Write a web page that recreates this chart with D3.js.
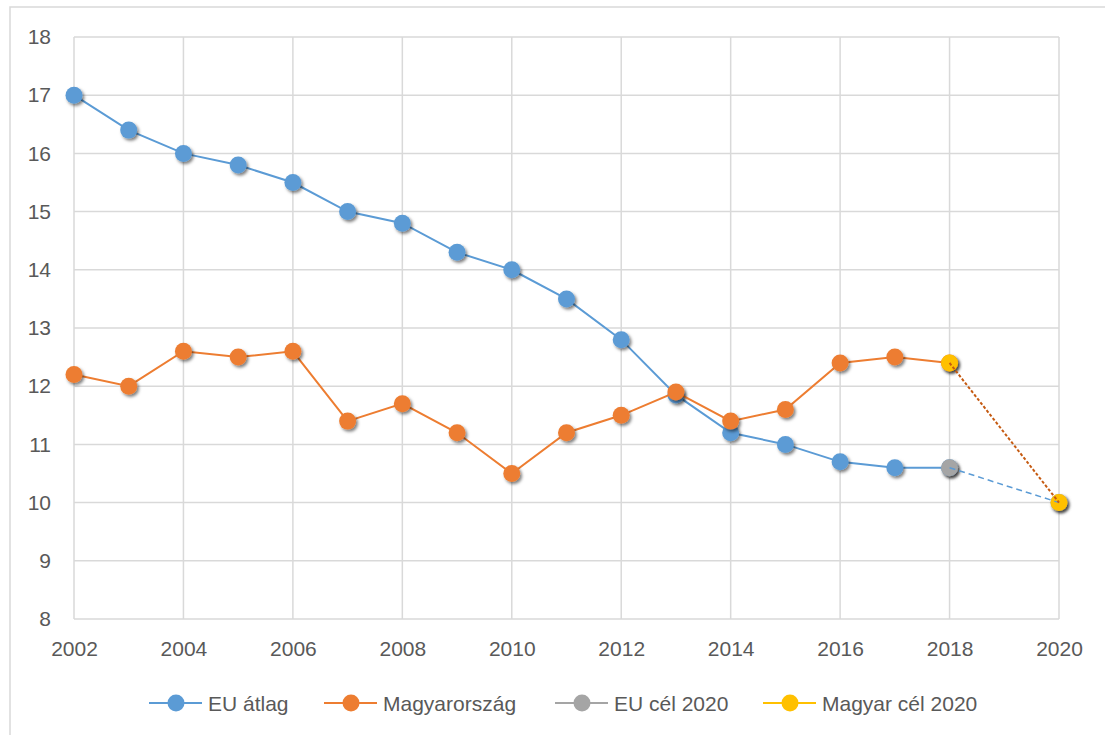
<!DOCTYPE html>
<html><head><meta charset="utf-8">
<script src="https://cdn.jsdelivr.net/npm/d3@7"></script>
<style>
html,body{margin:0;padding:0;background:#fff;}
svg{display:block;font-family:"Liberation Sans",Arial,sans-serif;}
</style></head>
<body>
<svg id="chart" width="1105" height="735"></svg>
<script>
// ---- data ----
const years = [2002,2003,2004,2005,2006,2007,2008,2009,2010,2011,2012,2013,2014,2015,2016,2017,2018];
const euAtlag = [17.0,16.4,16.0,15.8,15.5,15.0,14.8,14.3,14.0,13.5,12.8,11.85,11.2,11.0,10.7,10.6,10.6];
const magyarorszag = [12.2,12.0,12.6,12.5,12.6,11.4,11.7,11.2,10.5,11.2,11.5,11.9,11.4,11.6,12.4,12.5,12.4];
const celYears = [2018,2020];
const euCel2020 = [10.6,10.0];
const magyarCel2020 = [12.4,10.0];
const xTicks = [2002,2004,2006,2008,2010,2012,2014,2016,2018,2020];
const yTicks = [8,9,10,11,12,13,14,15,16,17,18];
const legendLabels = ["EU átlag","Magyarország","EU cél 2020","Magyar cél 2020"];

const C = {blue:"#5B9BD5", orange:"#ED7D31", grey:"#A5A5A5", yellow:"#FFC000", darkOrange:"#C55A11", text:"#595959", grid:"#D9D9D9"};

const svg = d3.select("#chart");
const defs = svg.append("defs");
const f = defs.append("filter").attr("id","sh").attr("x","-50%").attr("y","-50%").attr("width","200%").attr("height","200%");
f.append("feDropShadow").attr("dx",1.8).attr("dy",2.2).attr("stdDeviation",1.8).attr("flood-color","#000").attr("flood-opacity",0.5);

// outer border
svg.append("rect").attr("x",10).attr("y",7).attr("width",1110).attr("height",740)
  .attr("fill","none").attr("stroke",C.grid).attr("stroke-width",1.5);

const x = d3.scaleLinear().domain([2002,2020]).range([74,1059]);
const y = d3.scaleLinear().domain([8,18]).range([619,37]);

// gridlines
const g = svg.append("g");
g.selectAll(".hg").data(yTicks).join("line")
  .attr("x1",x(2002)).attr("x2",x(2020)).attr("y1",d=>y(d)).attr("y2",d=>y(d))
  .attr("stroke",C.grid).attr("stroke-width",1.5);
g.selectAll(".vg").data(xTicks).join("line")
  .attr("y1",y(8)).attr("y2",y(18)).attr("x1",d=>x(d)).attr("x2",d=>x(d))
  .attr("stroke",C.grid).attr("stroke-width",1.5);

// axes labels via d3 axes
const yAxis = svg.append("g").attr("transform",`translate(${x(2002)},0)`)
  .call(d3.axisLeft(y).tickValues(yTicks).tickSize(0).tickPadding(23).tickFormat(d3.format("d")));
const xAxis = svg.append("g").attr("transform",`translate(0,${y(8)})`)
  .call(d3.axisBottom(x).tickValues(xTicks).tickSize(0).tickPadding(22).tickFormat(d3.format("d")));
[yAxis,xAxis].forEach(a=>{
  a.select(".domain").remove();
  a.selectAll("text").attr("fill",C.text).style("font-size","21px").style("font-family","'Liberation Sans',Arial,sans-serif");
});

const line = d3.line().x(d=>x(d[0])).y(d=>y(d[1]));
const euPts = years.map((yr,i)=>[yr,euAtlag[i]]);
const huPts = years.map((yr,i)=>[yr,magyarorszag[i]]);
const euCelPts = celYears.map((yr,i)=>[yr,euCel2020[i]]);
const huCelPts = celYears.map((yr,i)=>[yr,magyarCel2020[i]]);

function series(pts,color){
  svg.append("path").datum(pts).attr("d",line).attr("fill","none").attr("stroke",color).attr("stroke-width",2);
  svg.append("g").selectAll("circle").data(pts).join("circle")
    .attr("cx",d=>x(d[0])).attr("cy",d=>y(d[1])).attr("r",8.5)
    .attr("fill",color).attr("filter","url(#sh)");
}
series(euPts,C.blue);
series(huPts,C.orange);

// target markers
svg.append("g").selectAll("circle").data([euCelPts[0]]).join("circle")
  .attr("cx",d=>x(d[0])).attr("cy",d=>y(d[1])).attr("r",8.5).attr("fill",C.grey).attr("filter","url(#sh)");
svg.append("g").selectAll("circle").data([euCelPts[1]]).join("circle")
  .attr("cx",d=>x(d[0])).attr("cy",d=>y(d[1])).attr("r",8.5).attr("fill",C.grey).attr("filter","url(#sh)");
svg.append("g").selectAll("circle").data(huCelPts).join("circle")
  .attr("cx",d=>x(d[0])).attr("cy",d=>y(d[1])).attr("r",8.5).attr("fill",C.yellow).attr("filter","url(#sh)");

// dashed target lines
svg.append("path").datum(euCelPts).attr("d",line).attr("fill","none")
  .attr("stroke",C.blue).attr("stroke-width",1.5).attr("stroke-dasharray","6,4");
svg.append("path").datum(huCelPts).attr("d",line).attr("fill","none")
  .attr("stroke",C.darkOrange).attr("stroke-width",2).attr("stroke-dasharray","3,2");

// legend
const legendColors = [C.blue,C.orange,C.grey,C.yellow];
const legendX = [149,324,555,763];
const lg = svg.append("g");
legendLabels.forEach((lab,i)=>{
  const lx = legendX[i], ly = 703;
  lg.append("line").attr("x1",lx).attr("x2",lx+53).attr("y1",ly).attr("y2",ly)
    .attr("stroke",legendColors[i]).attr("stroke-width",2);
  lg.append("circle").attr("cx",lx+27).attr("cy",ly).attr("r",8.5).attr("fill",legendColors[i]);
  lg.append("text").attr("x",lx+59).attr("y",ly).attr("dy","0.36em")
    .attr("fill",C.text).style("font-size","21px").text(lab);
});
</script>
</body></html>
